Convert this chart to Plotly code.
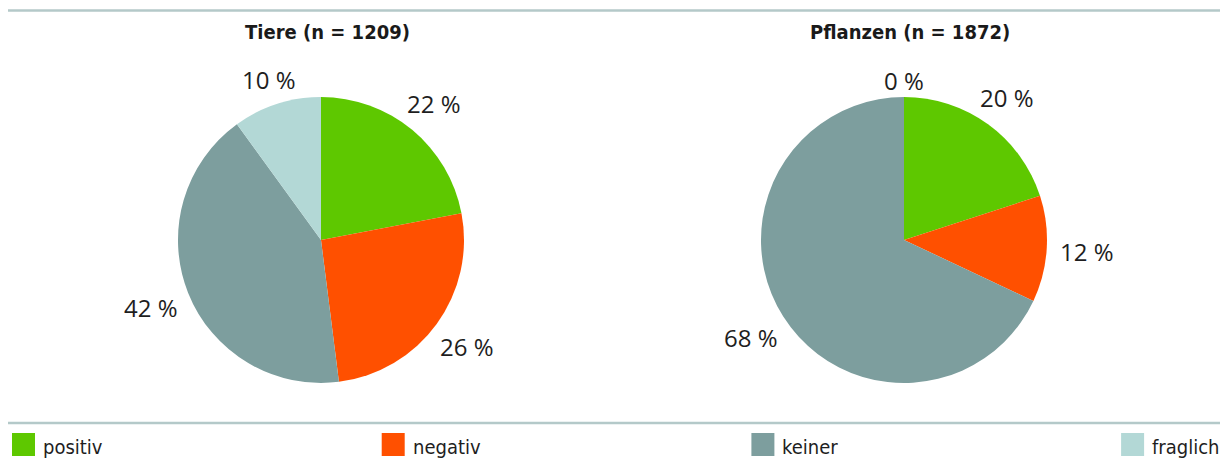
import math
import plotly.graph_objects as go

# ---- data ----
categories = ["positiv", "negativ", "keiner", "fraglich"]
tiere_values = [22, 26, 42, 10]
pflanzen_values = [20, 12, 68, 0]
titles = ["Tiere (n = 1209)", "Pflanzen (n = 1872)"]

# ---- style ----
colors = ["#5ec800", "#ff5000", "#7d9e9e", "#b3d8d6"]
line_color = "#b4c9c9"
text_color = "#1e1e1e"
W, H = 1227, 462
R = 143
centers = [(321, 240), (904, 240)]
label_font = "Open Sans, DejaVu Sans, sans-serif"
cond_font = "DejaVu Sans Condensed, Liberation Sans Narrow, sans-serif"

fig = go.Figure()
annotations = []
shapes = []

for (cx, cy), values, title in zip(centers, [tiere_values, pflanzen_values], titles):
    fig.add_trace(go.Pie(
        labels=categories,
        values=values,
        marker=dict(colors=colors, line=dict(width=0)),
        sort=False,
        direction="clockwise",
        rotation=0,
        textinfo="none",
        hoverinfo="label+percent",
        showlegend=False,
        domain=dict(x=[(cx - R) / W, (cx + R) / W],
                    y=[1 - (cy + R) / H, 1 - (cy - R) / H]),
    ))
    total = sum(values)
    cum = 0
    for v in values:
        mid = (cum + v / 2) / total
        cum += v
        th = 2 * math.pi * mid
        txt = f"{v} %"
        hw = 7.4 * len(txt)
        hh = 7
        dist = R + 10 + abs(math.sin(th)) * hw + abs(math.cos(th)) * hh
        px = cx + dist * math.sin(th)
        py = cy - dist * math.cos(th)
        annotations.append(dict(
            x=px / W, y=1 - py / H, xref="paper", yref="paper",
            text=txt, showarrow=False, xanchor="center", yanchor="middle",
            font=dict(family=label_font, size=24, color=text_color),
        ))
    annotations.append(dict(
        x=(cx + 6) / W, y=1 - 32 / H, xref="paper", yref="paper",
        text=f"<b>{title}</b>", showarrow=False, xanchor="center", yanchor="middle",
        font=dict(family=cond_font, size=20, color="#1a1a1a"),
    ))

# horizontal rules
for yy in (10.5, 423):
    shapes.append(dict(type="line", xref="paper", yref="paper",
                       x0=8 / W, x1=1220 / W, y0=1 - yy / H, y1=1 - yy / H,
                       line=dict(color=line_color, width=2.5)))

# legend
for i, (cat, col) in enumerate(zip(categories, colors)):
    x0 = 12 + i * 369.7
    shapes.append(dict(type="rect", xref="paper", yref="paper",
                       x0=x0 / W, x1=(x0 + 23) / W, y0=1 - 456 / H, y1=1 - 433 / H,
                       fillcolor=col, line=dict(width=0)))
    annotations.append(dict(
        x=(x0 + 29) / W, y=1 - 447 / H, xref="paper", yref="paper",
        text=cat, showarrow=False, xanchor="left", yanchor="middle",
        font=dict(family=cond_font, size=20, color=text_color),
    ))

fig.update_layout(
    width=W, height=H,
    margin=dict(l=0, r=0, t=0, b=0, pad=0),
    paper_bgcolor="white", plot_bgcolor="white",
    annotations=annotations, shapes=shapes,
    showlegend=False,
)

fig.write_html("out.html")
